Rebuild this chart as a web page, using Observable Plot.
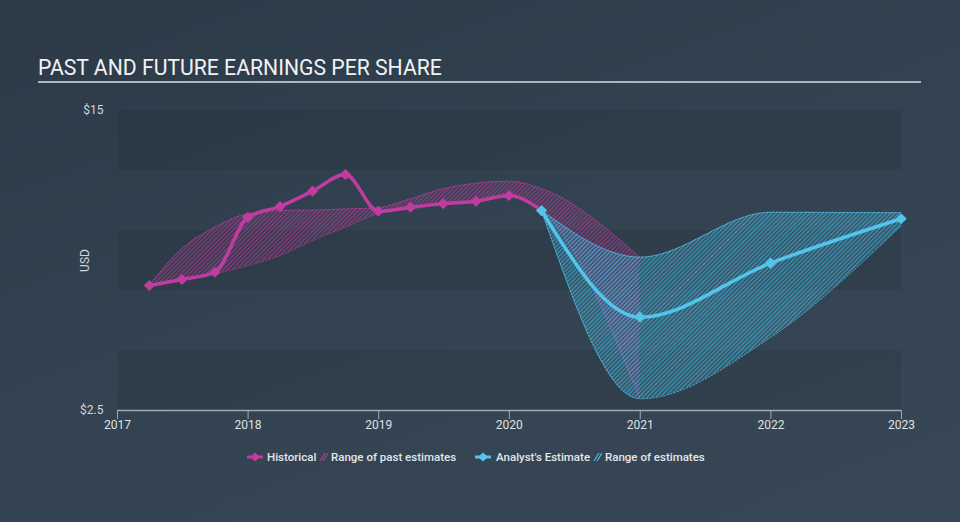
<!DOCTYPE html>
<html><head><meta charset="utf-8">
<script src="https://cdn.jsdelivr.net/npm/d3@7"></script>
<script src="https://cdn.jsdelivr.net/npm/@observablehq/plot@0.6"></script>
<style>
html,body{margin:0;padding:0;}
body{width:960px;height:522px;overflow:hidden;position:relative;font-family:Roboto,sans-serif;
background:linear-gradient(160deg,#2c3a48 0%,#334250 45%,#384756 100%);}
#title{position:absolute;left:38px;top:57px;font-size:21.2px;line-height:21px;color:#f0f2f4;white-space:nowrap;}
#rule{position:absolute;left:38px;top:81px;width:883px;height:2px;background:#aeb5bc;}
#chart{position:absolute;left:0;top:0;}
.lg{position:absolute;top:450px;font-size:11.5px;line-height:14px;color:#e4e7ea;font-weight:500;white-space:nowrap;}
.lg svg{position:absolute;}
</style></head>
<body>
<div id="chart"></div>
<div id="title">PAST AND FUTURE EARNINGS PER SHARE</div>
<div id="rule"></div>
<div class="lg" style="left:246px"><svg width="18" height="14" style="left:0;top:0"><line x1="1" y1="7" x2="17" y2="7" stroke="#c03ca0" stroke-width="3"/><path d="M9 2.5 L14 7 L9 11.5 L4 7Z" fill="#c03ca0"/></svg></div>
<div class="lg" style="left:267px">Historical</div>
<div class="lg" style="left:319px"><svg width="9" height="14" style="left:0;top:0"><line x1="1" y1="11" x2="6" y2="3" stroke="#b8399a" stroke-width="1.3"/><line x1="4" y1="11" x2="9" y2="3" stroke="#b8399a" stroke-width="1.3"/></svg></div>
<div class="lg" style="left:331px">Range of past estimates</div>
<div class="lg" style="left:474px"><svg width="18" height="14" style="left:0;top:0"><line x1="1" y1="7" x2="17" y2="7" stroke="#53c4ea" stroke-width="3"/><path d="M9 2.5 L14 7 L9 11.5 L4 7Z" fill="#53c4ea"/></svg></div>
<div class="lg" style="left:496px">Analyst's Estimate</div>
<div class="lg" style="left:593px"><svg width="9" height="14" style="left:0;top:0"><line x1="1" y1="11" x2="6" y2="3" stroke="#4bb8e0" stroke-width="1.3"/><line x1="4" y1="11" x2="9" y2="3" stroke="#4bb8e0" stroke-width="1.3"/></svg></div>
<div class="lg" style="left:605px">Range of estimates</div>
<script>
// Historical EPS (quarter ends)
const histDates = ["2017-03-31","2017-06-30","2017-09-30","2017-12-31","2018-03-31","2018-06-30","2018-09-30","2018-12-31","2019-03-31","2019-06-30","2019-09-30","2019-12-31","2020-03-31"];
const histEPS = [7.71,7.96,8.26,10.55,11.0,11.64,12.33,10.8,10.97,11.12,11.22,11.46,10.83];

// Range of past estimates
const pastDates = ["2017-03-31","2017-06-30","2017-09-30","2017-12-31","2018-03-31","2018-06-30","2018-09-30","2018-12-31","2019-03-31","2019-06-30","2019-09-30","2019-12-31","2020-03-31","2020-12-31"];
const pastHigh = [7.71,9.24,10.14,10.7,10.83,10.85,10.9,10.95,11.32,11.74,11.97,12.05,11.74,8.89];
const pastLow  = [7.71,7.92,8.2,8.54,8.96,9.58,10.14,10.7,10.9,11.1,11.25,11.4,10.83,2.99];

// Analyst estimates
const estDates = ["2020-03-31","2020-12-31","2021-12-31","2022-12-31"];
const estAvg  = [10.83,6.39,8.64,10.49];
const estHigh = [10.83,8.89,10.76,10.74];
const estLow  = [10.83,2.99,5.55,10.2];

// Axis ticks
const yTicks = [2.5, 15];
const xDomain = ["2017-01-01","2023-01-01"];
const bandEdges = [[12.5,15],[7.5,10],[2.5,5]];

const P = "#c03ca0", B = "#53c4ea";
const hist = histDates.map((d,i)=>({date:new Date(d), v:histEPS[i]}));
const past = pastDates.map((d,i)=>({date:new Date(d), lo:pastLow[i], hi:pastHigh[i]}));
const est = estDates.map((d,i)=>({date:new Date(d), v:estAvg[i], lo:estLow[i], hi:estHigh[i]}));
const bands = bandEdges.map(([a,b])=>({y1:a,y2:b}));

const svg = Plot.plot({
  width:960, height:522,
  marginLeft:117, marginRight:59, marginTop:110, marginBottom:112,
  style:{background:"transparent", fontFamily:"Roboto, sans-serif", fontSize:"12px", color:"#d6dade"},
  x:{type:"utc", domain:xDomain.map(d=>new Date(d))},
  y:{domain:[2.5,15]},
  marks:[
    Plot.rect(bands,{y1:"y1", y2:"y2", fill:"#000", fillOpacity:0.07}),
    Plot.areaY(past,{x:"date", y1:"lo", y2:"hi", curve:"monotone-x", fill:"url(#hp)"}),
    Plot.line(past,{x:"date", y:"hi", curve:"monotone-x", stroke:P, strokeWidth:1, strokeOpacity:0.7, strokeDasharray:"2,1.5"}),
    Plot.line(past,{x:"date", y:"lo", curve:"monotone-x", stroke:P, strokeWidth:1, strokeOpacity:0.7, strokeDasharray:"2,1.5"}),
    Plot.areaY(est,{x:"date", y1:"lo", y2:"hi", curve:"monotone-x", fill:"url(#hb)"}),
    Plot.line(est,{x:"date", y:"hi", curve:"monotone-x", stroke:B, strokeWidth:1, strokeOpacity:0.8, strokeDasharray:"2,1.5"}),
    Plot.line(est,{x:"date", y:"lo", curve:"monotone-x", stroke:B, strokeWidth:1, strokeOpacity:0.8, strokeDasharray:"2,1.5"}),
    Plot.ruleY([2.5],{stroke:"#9ea8b3", strokeWidth:1.5}),
    Plot.axisX({ticks:d3.utcYear.every(1), tickFormat:"%Y", tickSize:9, tickPadding:1, stroke:"#9ea8b3", fill:"#dfe2e5", fontSize:12}),
    Plot.axisY({ticks:yTicks, tickFormat:d=>"$"+d, tickSize:0, tickPadding:14, label:"USD", labelAnchor:"center", labelOffset:37, labelArrow:"none", fill:"#d2d6da", fontSize:12}),
    Plot.line(hist,{x:"date", y:"v", curve:"monotone-x", stroke:P, strokeWidth:3.5}),
    Plot.dot(hist,{x:"date", y:"v", symbol:"diamond2", r:5, fill:P}),
    Plot.line(est,{x:"date", y:"v", curve:"monotone-x", stroke:B, strokeWidth:3.5}),
    Plot.dot(est,{x:"date", y:"v", symbol:"diamond2", r:5, fill:B})
  ]
});

const defs = d3.select(svg).insert("defs", ":first-child");
function pat(id, base, line){
  const p = defs.append("pattern").attr("id",id).attr("patternUnits","userSpaceOnUse")
    .attr("width",3).attr("height",3).attr("patternTransform","rotate(45)");
  p.append("rect").attr("width",3).attr("height",3).attr("fill",base);
  p.append("line").attr("x1",0.5).attr("y1",0).attr("x2",0.5).attr("y2",3).attr("stroke",line).attr("stroke-width",1);
}
pat("hp","rgba(192,60,160,0.10)","rgba(192,60,160,0.6)");
pat("hb","rgba(70,180,225,0.22)","rgba(75,190,232,0.6)");

document.getElementById("chart").appendChild(svg);
</script>
</body></html>
